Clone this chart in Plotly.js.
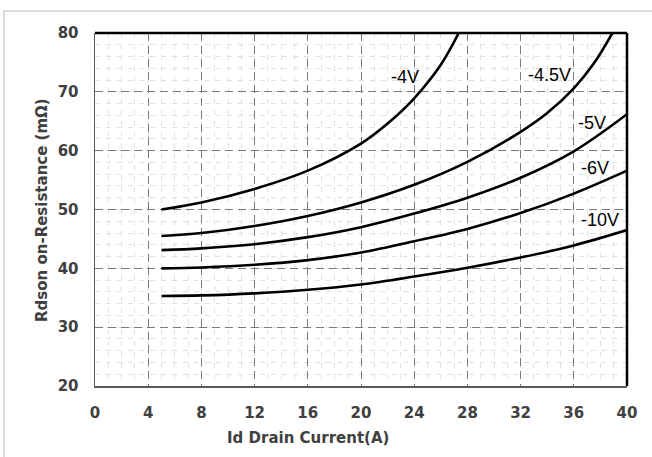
<!DOCTYPE html>
<html>
<head>
<meta charset="utf-8">
<script src="https://cdn.plot.ly/plotly-3.0.1.min.js"></script>
<style>
  html, body { margin: 0; padding: 0; background: #ffffff; }
  #frame { position: absolute; left: 3px; top: 10px; width: 700px; height: 500px; border: 2px solid #dcdcdc; box-sizing: border-box; }
  #chart { position: absolute; left: 0; top: 0; width: 652px; height: 457px; }
</style>
</head>
<body>
<div id="frame"></div>
<div id="chart"></div>
<script>
// Id drain current (A) and Rdson (mΩ) per gate voltage
const x4 = [5, 8, 12, 16, 20, 22, 24, 26, 27.35];
const y4 = [50, 51.2, 53.5, 56.6, 61.2, 64.6, 68.9, 74.6, 80];

const x45 = [5, 8, 12, 16, 20, 24, 28, 32, 34, 36, 37.5, 38.9];
const y45 = [45.5, 46.0, 47.2, 48.9, 51.2, 54.2, 58.1, 63.2, 66.4, 70.6, 74.8, 80];

const xStd = [5, 8, 12, 16, 20, 24, 28, 32, 36, 40];
const y5  = [43.1, 43.4, 44.1, 45.3, 47.0, 49.3, 52.0, 55.4, 59.9, 66.2];
const y6  = [40.0, 40.15, 40.6, 41.4, 42.7, 44.6, 46.7, 49.4, 52.7, 56.6];
const y10 = [35.3, 35.4, 35.75, 36.35, 37.25, 38.6, 40.1, 41.85, 43.9, 46.5];

const seriesNames = ['-4V', '-4.5V', '-5V', '-6V', '-10V'];
const labelX = [23.3, 34.2, 37.4, 37.6, 37.95];
const labelY = [72.6, 72.8, 64.7, 57.1, 48.25];

const xTickVals = [0, 4, 8, 12, 16, 20, 24, 28, 32, 36, 40];
const yTickVals = [20, 30, 40, 50, 60, 70, 80];

const xTitle = 'Id Drain Current(A)';
const yTitle = 'Rdson on-Resistance (mΩ)';

const seriesX = [x4, x45, xStd, xStd, xStd];
const seriesY = [y4, y45, y5, y6, y10];

const traces = seriesNames.map((n, i) => ({
  type: 'scatter', mode: 'lines', name: n,
  x: seriesX[i], y: seriesY[i],
  line: { color: '#000000', width: 2.6, shape: 'spline', smoothing: 1 },
  hoverinfo: 'skip'
}));

const tickFont = { family: 'DejaVu Sans', size: 15, color: '#404040', weight: 'bold' };

const annotations = seriesNames.map((n, i) => ({
  x: labelX[i], y: labelY[i], xref: 'x', yref: 'y', text: n, showarrow: false,
  font: { family: 'Liberation Sans, Arial, sans-serif', size: 18, color: '#000000' },
  xanchor: 'center', yanchor: 'middle'
}));
annotations.push({
  x: 308, y: 438, xref: 'paper', yref: 'paper', text: '<b>' + xTitle + '</b>', showarrow: false,
  font: { family: 'DejaVu Sans', size: 15, color: '#404040' }, xanchor: 'center', yanchor: 'middle'
});
annotations.push({
  x: 42, y: 210, xref: 'paper', yref: 'paper', text: '<b>' + yTitle + '</b>', showarrow: false, textangle: -90,
  font: { family: 'DejaVu Sans', size: 15, color: '#404040' }, xanchor: 'center', yanchor: 'middle'
});

// convert pixel-based title positions to paper fractions
const L = 95, R = 25, T = 33, B = 71, W = 652, H = 457;
const pw = W - L - R, ph = H - T - B;
annotations.forEach(a => {
  if (a.xref === 'paper') {
    a.x = (a.x - L) / pw;
    a.y = 1 - (a.y - T) / ph;
  }
});

const layout = {
  width: W, height: H,
  margin: { l: L, r: R, t: T, b: B, pad: 0 },
  paper_bgcolor: 'rgba(0,0,0,0)',
  plot_bgcolor: '#ffffff',
  showlegend: false,
  xaxis: {
    range: [0, 40], tickmode: 'array', tickvals: xTickVals, ticktext: xTickVals.map(String),
    showgrid: true, gridcolor: '#7a7a7a', gridwidth: 1, griddash: '8px,5px',
    minor: { dtick: 1, showgrid: true, gridcolor: '#e0e0e0', gridwidth: 1, griddash: '5px,6px', ticks: '' },
    zeroline: false, showline: true, linecolor: '#595959', linewidth: 1.5,
    ticks: '', ticklabelstandoff: 12, tickfont: tickFont, fixedrange: true
  },
  yaxis: {
    range: [20, 80], tickmode: 'array', tickvals: yTickVals, ticktext: yTickVals.map(String),
    showgrid: true, gridcolor: '#7a7a7a', gridwidth: 1, griddash: '8px,5px',
    minor: { dtick: 2, showgrid: true, gridcolor: '#e0e0e0', gridwidth: 1, griddash: '5px,6px', ticks: '' },
    zeroline: false, showline: true, linecolor: '#595959', linewidth: 1.5,
    ticks: '', ticklabelstandoff: 12, tickfont: tickFont, fixedrange: true
  },
  shapes: [
    { type: 'line', xref: 'paper', yref: 'paper', x0: 0, x1: 1, y0: 1, y1: 1, line: { color: '#000000', width: 2.5 } },
    { type: 'line', xref: 'paper', yref: 'paper', x0: 1, x1: 1, y0: 0, y1: 1, line: { color: '#000000', width: 2.5 } }
  ],
  annotations: annotations
};

Plotly.newPlot('chart', traces, layout, { staticPlot: true, displayModeBar: false });
</script>
</body>
</html>
